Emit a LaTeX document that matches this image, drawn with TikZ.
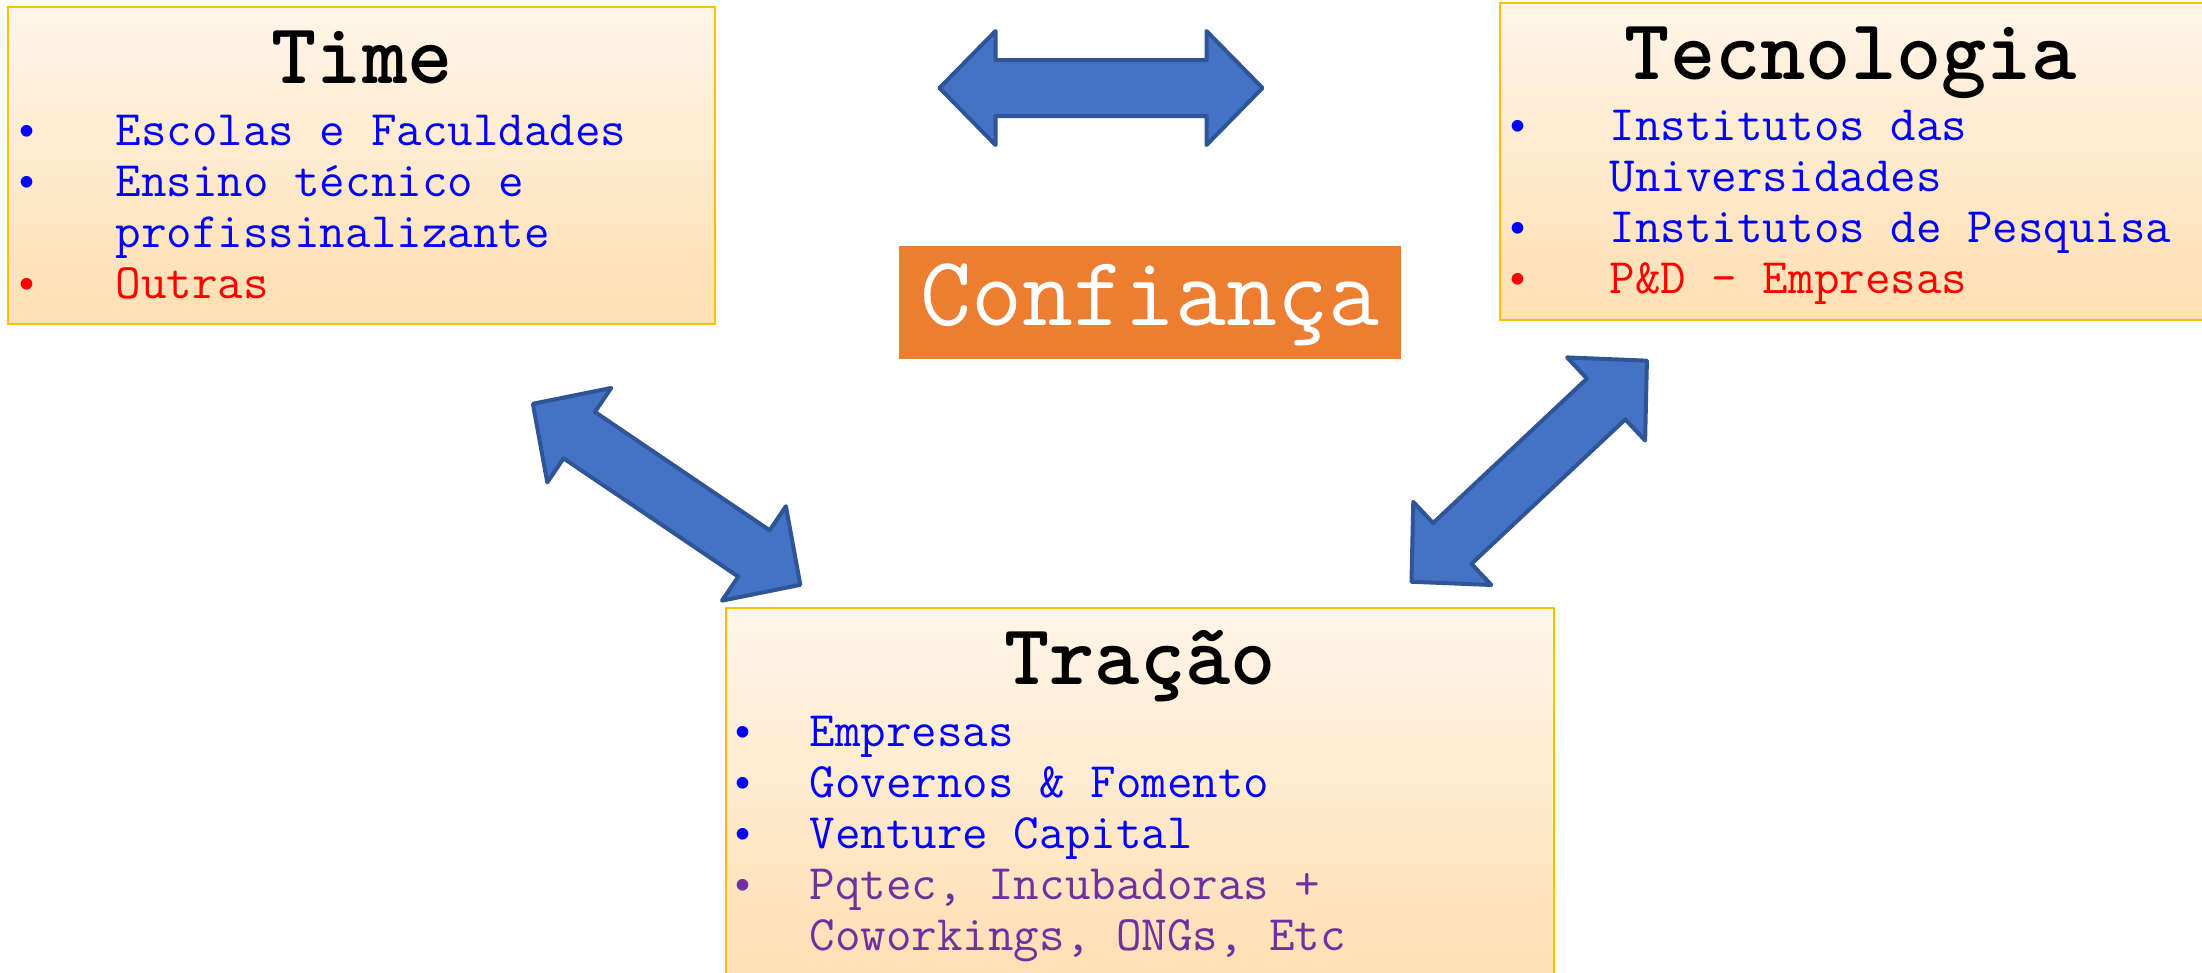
\documentclass[tikz,border=0pt]{standalone}
\usepackage{fontspec}
\usetikzlibrary{fit}
\newfontfamily\bulfont{Liberation Sans}
\definecolor{boxtop}{HTML}{FFF5E8}
\definecolor{boxbot}{HTML}{FFDFB2}
\definecolor{boxline}{HTML}{FFC000}
\definecolor{arrowfill}{HTML}{4472C4}
\definecolor{arrowline}{HTML}{2F5597}
\definecolor{confcol}{HTML}{ED7D31}
\definecolor{itblue}{HTML}{0000FF}
\definecolor{itred}{HTML}{FF0000}
\definecolor{itpurple}{HTML}{7030A0}
\begin{document}
\begin{tikzpicture}[x=0.01cm,y=-0.01cm,
  panel/.style={draw=boxline, line width=0.7pt, top color=boxtop, bottom color=boxbot, inner sep=0pt},
  paneltitle/.style={font=\ttfamily\bfseries\fontsize{24.5}{28}\selectfont, text=black, anchor=base, inner sep=0pt},
  itemtext/.style={font=\ttfamily\fontsize{14.1}{16}\selectfont, anchor=base west, inner sep=0pt},
  bul/.style={font=\bulfont\fontsize{12.2}{14}\selectfont, anchor=base, inner sep=0pt},
  blockarrow/.style={fill=arrowfill, draw=arrowline, line width=0.04cm, line join=round},
  pics/dblarrow/.style={code={
    \draw[blockarrow] (-161.5,0) -- (-105.5,57) -- (-105.5,28) -- (105.5,28) -- (105.5,57)
      -- (161.5,0) -- (105.5,-57) -- (105.5,-28) -- (-105.5,-28) -- (-105.5,-57) -- cycle;}}
]
\useasboundingbox (0,0) rectangle (2202,972);
\fill[white] (0,0) rectangle (2202,972);

% panels
\node[panel, fit={(8,7) (715,324)}] (time) {};
\node[panel, fit={(1500,3) (2215,320)}] (tec) {};
\node[panel, fit={(726,608) (1554,985)}] (tracao) {};

% Time
\node[paneltitle] (timeT) at (362,83) {Time};
\node[bul, text=itblue] (tb1) at (27,145) {•};
\node[itemtext, text=itblue] (ti1) at (115,145) {Escolas e Faculdades};
\node[bul, text=itblue] (tb2) at (27,196) {•};
\node[itemtext, text=itblue] (ti2) at (115,196) {Ensino técnico e};
\node[itemtext, text=itblue] (ti2b) at (115,247) {profissinalizante};
\node[bul, text=itred] (tb3) at (27,298) {•};
\node[itemtext, text=itred] (ti3) at (115,298) {Outras};

% Tecnologia
\node[paneltitle] (tecT) at (1851,79) {Tecnologia};
\node[bul, text=itblue] (cb1) at (1518,140) {•};
\node[itemtext, text=itblue] (ci1) at (1609,140) {Institutos das};
\node[itemtext, text=itblue] (ci1b) at (1609,191) {Universidades};
\node[bul, text=itblue] (cb2) at (1518,242) {•};
\node[itemtext, text=itblue] (ci2) at (1609,242) {Institutos de Pesquisa};
\node[bul, text=itred] (cb3) at (1518,293) {•};
\node[itemtext, text=itred] (ci3) at (1609,293) {P\&D - Empresas};

% Tracao
\node[paneltitle] (traT) at (1140,684) {Tração};
\node[bul, text=itblue] (rb1) at (743,746) {•};
\node[itemtext, text=itblue] (ri1) at (809,746) {Empresas};
\node[bul, text=itblue] (rb2) at (743,797) {•};
\node[itemtext, text=itblue] (ri2) at (809,797) {Governos \& Fomento};
\node[bul, text=itblue] (rb3) at (743,848) {•};
\node[itemtext, text=itblue] (ri3) at (809,848) {Venture Capital};
\node[bul, text=itpurple] (rb4) at (743,899) {•};
\node[itemtext, text=itpurple] (ri4) at (809,899) {Pqtec, Incubadoras +};
\node[itemtext, text=itpurple] (ri4b) at (809,950) {Coworkings, ONGs, Etc};

% Confianca
\node[fill=confcol, minimum width=5.02cm, minimum height=1.13cm, inner sep=0pt,
      text height=0.6cm, text depth=0.15cm, text=white,
      font=\ttfamily\fontsize{28.2}{32}\selectfont] (conf) at (1150,302.5) {Confiança};

% block arrows
\pic at (1101,88) {dblarrow};
\pic[rotate=-34.1] at (666.6,494.3) {dblarrow};
\pic[rotate=43.2] at (1529.2,471.2) {dblarrow};
\end{tikzpicture}
\end{document}
